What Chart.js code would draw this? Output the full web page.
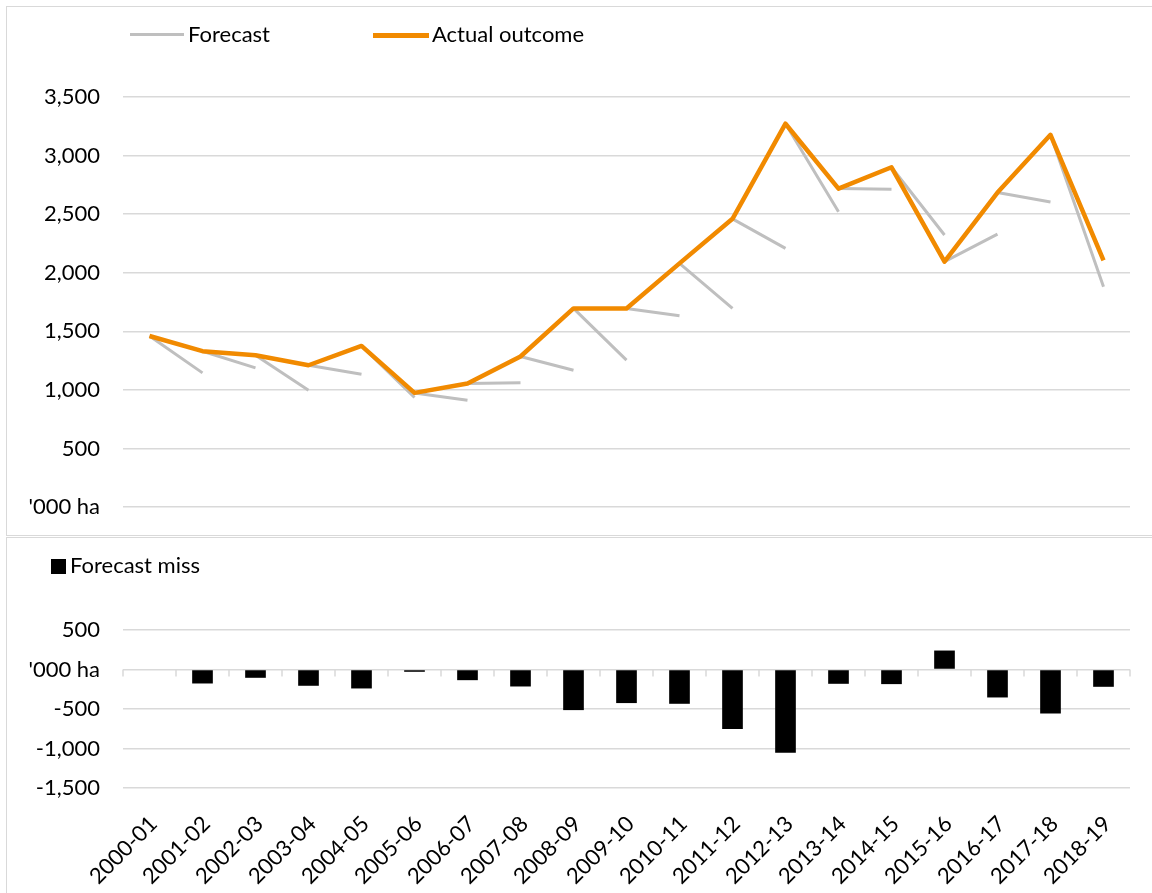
<!DOCTYPE html>
<html>
<head>
<meta charset="utf-8">
<script src="https://cdn.jsdelivr.net/npm/chart.js@4"></script>
<style>
  body { margin: 0; width: 1152px; height: 893px; overflow: hidden; background: #fff; font-family: Lato, sans-serif; }
  .panel { position: absolute; border: 1.5px solid #d9d9d9; box-sizing: border-box; }
  #p1 { left: 6px; top: 6px; width: 1170px; height: 530px; }
  #p2 { left: 6px; top: 537px; width: 1170px; height: 400px; }
  canvas { position: absolute; left: 0; }
  #c1 { top: 0; }
  #c2 { top: 538px; }
  .leg { position: absolute; font-size: 22px; line-height: 22px; color: #000; white-space: nowrap; }
  .swatch { position: absolute; }
</style>
</head>
<body>
<div class="panel" id="p1"></div>
<div class="panel" id="p2"></div>
<canvas id="c1" width="1152" height="535"></canvas>
<canvas id="c2" width="1152" height="355"></canvas>

<div class="swatch" style="left:130px;top:33px;width:54px;height:3px;background:#bfbfbf"></div>
<div class="leg" style="left:188px;top:23px">Forecast</div>
<div class="swatch" style="left:373px;top:33px;width:56px;height:4.5px;background:#f18a00"></div>
<div class="leg" style="left:432px;top:23px">Actual outcome</div>
<div class="swatch" style="left:51px;top:559px;width:15px;height:15px;background:#000"></div>
<div class="leg" style="left:70px;top:554px">Forecast miss</div>

<script>
const years = ['2000-01', '2001-02', '2002-03', '2003-04', '2004-05', '2005-06', '2006-07',
  '2007-08', '2008-09', '2009-10', '2010-11', '2011-12', '2012-13', '2013-14', '2014-15',
  '2015-16', '2016-17', '2017-18', '2018-19'];

// '000 ha
const actual = [1460, 1330, 1295, 1210, 1375, 974, 1054, 1285, 1695, 1695, 2080, 2460, 3272,
  2718, 2900, 2094, 2684, 3177, 2105];
// forecast made the year before for each season
const forecast = [null, 1145, 1188, 997, 1134, 935, 912, 1060, 1168, 1254, 1632, 1695, 2208,
  2521, 2712, 2322, 2330, 2604, 1880];
const miss = [null, -177, -105, -206, -240, -29, -135, -215, -514, -425, -434, -754, -1053,
  -181, -185, 240, -354, -556, -219];

const topTicks = [0, 500, 1000, 1500, 2000, 2500, 3000, 3500];
const bottomTicks = [-1500, -1000, -500, 0, 500];

const font = { family: 'Lato', size: 22 };
const fmt = v => v === 0 ? "'000 ha" : v.toLocaleString('en-US');

// each forecast is a short segment from last year's outcome to the forecast value
const fcPoints = [];
for (let i = 1; i < years.length; i++) {
  fcPoints.push({ x: years[i - 1], y: actual[i - 1] });
  fcPoints.push({ x: years[i], y: forecast[i] });
  fcPoints.push({ x: years[i], y: null });
}

const yAxis = (min, max) => ({
  min: min, max: max,
  afterBuildTicks: s => { s.ticks = (min === 0 ? topTicks : bottomTicks).map(v => ({ value: v })); },
  ticks: { color: '#000', font: font, padding: 23, callback: fmt },
  grid: { color: '#d9d9d9', lineWidth: 1.5, drawTicks: false },
  border: { display: false },
  afterFit: s => { s.width = 123; s.paddingTop = 0; s.paddingBottom = 0; }
});

new Chart(document.getElementById('c1'), {
  type: 'line',
  data: {
    labels: years,
    datasets: [
      { label: 'Actual outcome', data: actual, borderColor: '#f18a00', borderWidth: 4.5,
        pointRadius: 0, borderJoinStyle: 'round', order: 1 },
      { label: 'Forecast', data: fcPoints, borderColor: '#bfbfbf', borderWidth: 3,
        pointRadius: 0, order: 2 }
    ]
  },
  options: {
    responsive: false,
    animation: false,
    layout: { padding: { top: 97, right: 22, bottom: 0, left: 0 } },
    plugins: { legend: { display: false }, tooltip: { enabled: false } },
    scales: {
      x: {
        offset: true,
        grid: { display: false, drawTicks: false },
        border: { display: false },
        ticks: { display: false },
        afterFit: s => { s.height = 28; }
      },
      y: yAxis(0, 3500)
    }
  }
});

const zeroTicks = {
  id: 'zeroTicks',
  afterDatasetsDraw(chart) {
    const x = chart.scales.x, y0 = chart.scales.y.getPixelForValue(0);
    const ctx = chart.ctx;
    const step = x.width / years.length;
    ctx.save();
    ctx.strokeStyle = '#d9d9d9';
    ctx.lineWidth = 1.5;
    for (let i = 0; i <= years.length; i++) {
      const px = x.left + i * step;
      ctx.beginPath();
      ctx.moveTo(px, y0);
      ctx.lineTo(px, y0 + 7);
      ctx.stroke();
    }
    ctx.restore();
  }
};

new Chart(document.getElementById('c2'), {
  type: 'bar',
  data: {
    labels: years,
    datasets: [{ label: 'Forecast miss', data: miss, backgroundColor: '#000',
      barPercentage: 0.39, categoryPercentage: 1 }]
  },
  options: {
    responsive: false,
    animation: false,
    layout: { padding: { top: 92, right: 22, bottom: 0, left: 0 } },
    plugins: { legend: { display: false }, tooltip: { enabled: false } },
    scales: {
      x: {
        grid: { display: false, drawTicks: false },
        border: { display: false },
        ticks: { color: '#000', font: font, minRotation: 45, maxRotation: 45,
          autoSkip: false, padding: 23, labelOffset: 4 },
        afterFit: s => { s.height = 105; }
      },
      y: yAxis(-1500, 500)
    }
  },
  plugins: [zeroTicks]
});
</script>
</body>
</html>
